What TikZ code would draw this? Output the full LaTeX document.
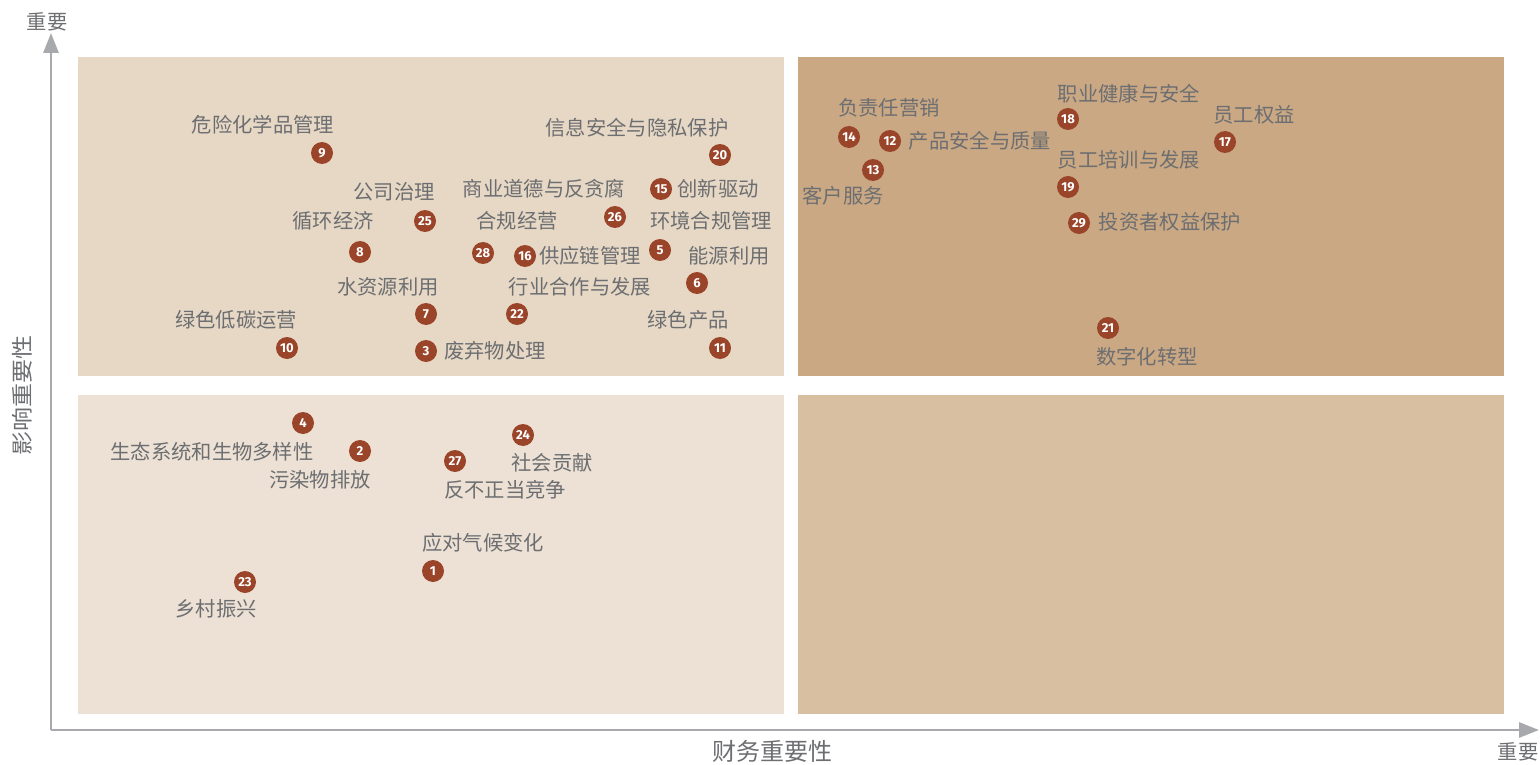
\documentclass[tikz,border=0pt]{standalone}
\usepackage{fontspec}
\setmainfont{Noto Sans CJK SC}
\newfontfamily\numfont{Fira Sans}
\usetikzlibrary{arrows.meta}
\definecolor{qA}{HTML}{E6D8C5}
\definecolor{qB}{HTML}{C9A883}
\definecolor{qC}{HTML}{ECE1D4}
\definecolor{qD}{HTML}{D9BFA2}
\definecolor{dotc}{HTML}{9A4429}
\definecolor{txt}{HTML}{6D6E71}
\definecolor{axc}{HTML}{A7A9AC}
\tikzset{
  lab/.style={text=txt, font=\fontsize{20.3}{23}\selectfont, inner sep=0pt},
  biglab/.style={text=txt, font=\fontsize{24}{26}\selectfont, inner sep=0pt},
  num/.style={circle, fill=dotc, minimum size=22pt, inner sep=0pt, text=white, font=\numfont\bfseries\fontsize{13}{13}\selectfont},
  axis/.style={draw=axc, line width=2.8pt, -{Triangle[length=20pt,width=15pt]}}
}
\begin{document}
\begin{tikzpicture}[x=1pt,y=-1pt]
\useasboundingbox (0,0) rectangle (1540,765);
% quadrants
\fill[qA] (78,57) rectangle (784,376);
\fill[qB] (798,57) rectangle (1504,376);
\fill[qC] (78,395) rectangle (784,714);
\fill[qD] (798,395) rectangle (1504,714);
% axes
\coordinate (O) at (51,730);
\coordinate (Ytop) at (51,33);
\coordinate (Xend) at (1539,730);
\draw[axis] (O) -- (Ytop);
\draw[axis] (O) -- (Xend);
\node[lab] (yhi) at (47,22) {重要};
\node[lab] (xhi) at (1518,752) {重要};
\node[biglab, rotate=90, xscale=1, yscale=0.9] (ylab) at (22,395) {影响重要性};
\node[biglab] (xlab) at (772,751) {财务重要性};
% labels
\node[lab] (l9) at (263,125) {危险化学品管理};
\node[lab] (l20) at (637,128) {信息安全与隐私保护};
\node[lab] (l25) at (394,192) {公司治理};
\node[lab] (l26) at (544,189) {商业道德与反贪腐};
\node[lab] (l15) at (718,189) {创新驱动};
\node[lab] (l8) at (333,221) {循环经济};
\node[lab] (l28) at (517,221) {合规经营};
\node[lab] (l5) at (711,221) {环境合规管理};
\node[lab] (l16) at (590,256) {供应链管理};
\node[lab] (l6) at (729,256) {能源利用};
\node[lab] (l7) at (388,287) {水资源利用};
\node[lab] (l22) at (580,287) {行业合作与发展};
\node[lab] (l10) at (236,320) {绿色低碳运营};
\node[lab] (l11) at (688,320) {绿色产品};
\node[lab] (l3) at (495,351) {废弃物处理};
\node[lab] (l14) at (889,108) {负责任营销};
\node[lab] (l12) at (980,141) {产品安全与质量};
\node[lab] (l13) at (843,196) {客户服务};
\node[lab] (l18) at (1129,94) {职业健康与安全};
\node[lab] (l17) at (1254,115) {员工权益};
\node[lab] (l19) at (1129,160) {员工培训与发展};
\node[lab] (l29) at (1170,222) {投资者权益保护};
\node[lab] (l21) at (1147,357) {数字化转型};
\node[lab] (l4) at (212,452) {生态系统和生物多样性};
\node[lab] (l2) at (320,480) {污染物排放};
\node[lab] (l24) at (552,463) {社会贡献};
\node[lab] (l27) at (505,490) {反不正当竞争};
\node[lab] (l1) at (483,543) {应对气候变化};
\node[lab] (l23) at (216,609) {乡村振兴};
% numbered dots
\node[num] (n9) at (322,153) {9};
\node[num] (n20) at (720,155) {20};
\node[num] (n15) at (661,189) {15};
\node[num] (n25) at (425,221) {25};
\node[num] (n26) at (615,217) {26};
\node[num] (n8) at (360,252) {8};
\node[num] (n28) at (483,253) {28};
\node[num] (n16) at (525,256) {16};
\node[num] (n5) at (660,250) {5};
\node[num] (n6) at (697,283) {6};
\node[num] (n7) at (426,314) {7};
\node[num] (n22) at (517,314) {22};
\node[num] (n10) at (287,348) {10};
\node[num] (n3) at (426,351) {3};
\node[num] (n11) at (720,348) {11};
\node[num] (n14) at (849,137) {14};
\node[num] (n12) at (890,141) {12};
\node[num] (n13) at (873,170) {13};
\node[num] (n18) at (1068,119) {18};
\node[num] (n17) at (1225,142) {17};
\node[num] (n19) at (1068,187) {19};
\node[num] (n29) at (1079,223) {29};
\node[num] (n21) at (1108,328) {21};
\node[num] (n4) at (303,423) {4};
\node[num] (n2) at (360,451) {2};
\node[num] (n27) at (455,461) {27};
\node[num] (n24) at (523,435) {24};
\node[num] (n1) at (433,571) {1};
\node[num] (n23) at (245,582) {23};
\end{tikzpicture}
\end{document}
